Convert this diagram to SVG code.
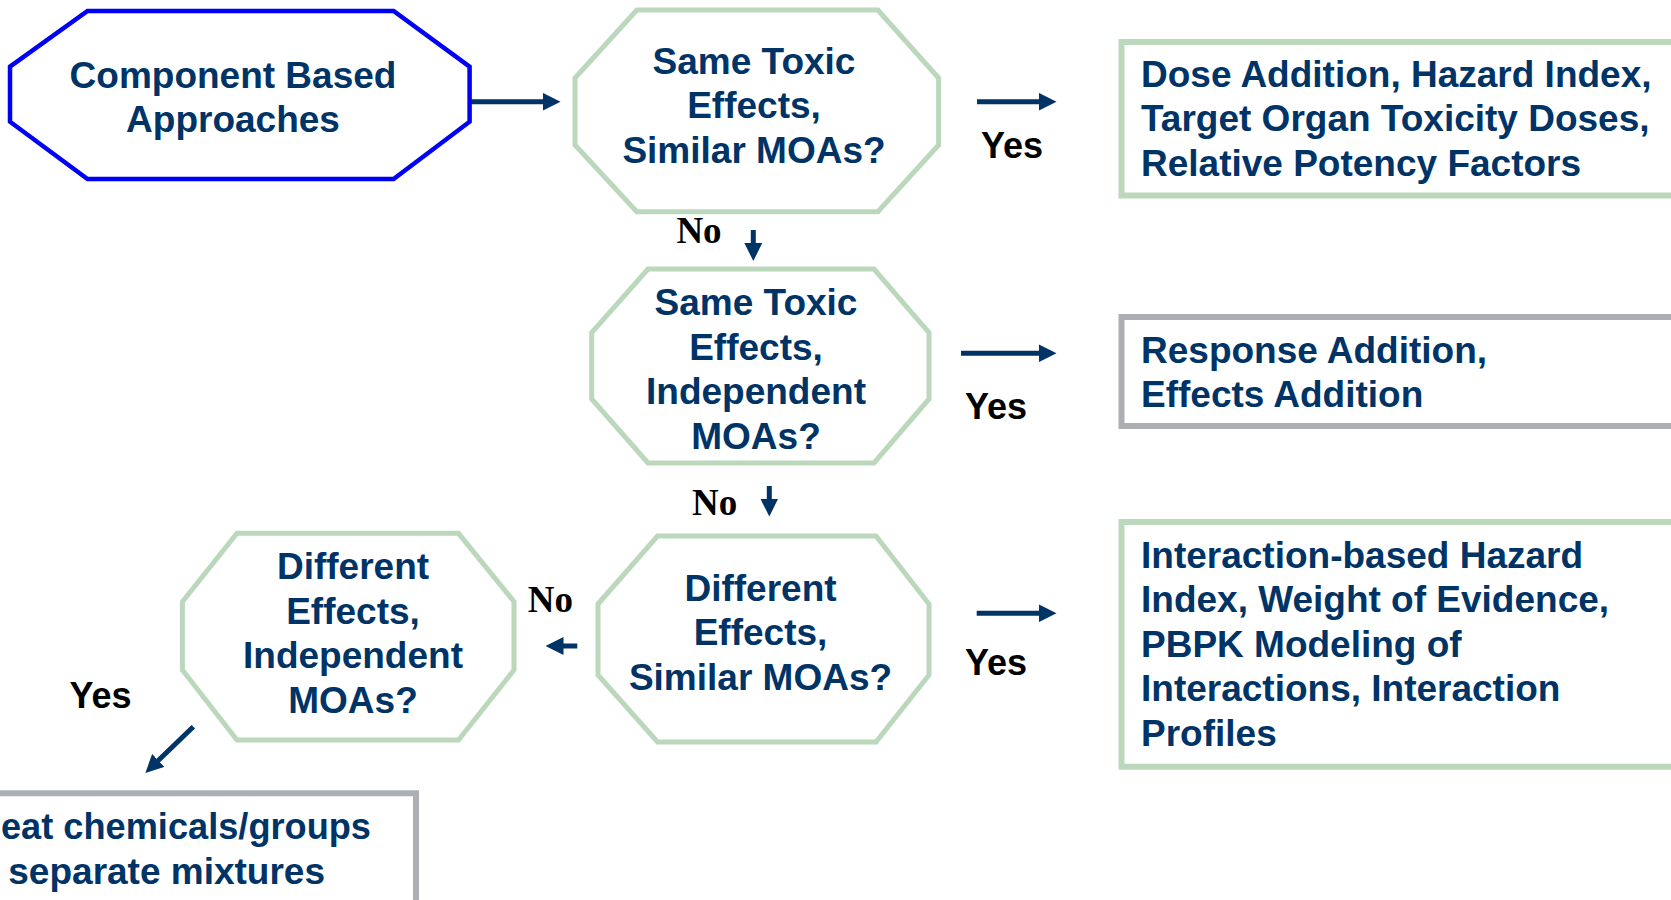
<svg xmlns="http://www.w3.org/2000/svg" width="1671" height="900" viewBox="0 0 1671 900">
<style>
.oct{fill:#ffffff;stroke:#bbd7bc;stroke-width:5;stroke-linejoin:miter}
.start{fill:#ffffff;stroke:#0000f5;stroke-width:4.5}
.boxg{fill:#ffffff;stroke:#bbd7bc;stroke-width:6}
.boxgr{fill:#ffffff;stroke:#abaeb3;stroke-width:6}
.t{font-family:"Liberation Sans",Arial,sans-serif;font-weight:bold;font-size:37px;fill:#003366}
.c{text-anchor:middle}
.yes{font-family:"Liberation Sans",Arial,sans-serif;font-weight:bold;font-size:36px;fill:#000000;text-anchor:middle}
.no{font-family:"Liberation Serif","Times New Roman",serif;font-weight:bold;font-size:37px;fill:#000000;text-anchor:middle}
.arr{stroke:#003366;stroke-width:5;fill:none;marker-end:url(#ah)}
</style>
<defs>
<marker id="ah" markerUnits="userSpaceOnUse" markerWidth="18" markerHeight="18" refX="0.5" refY="9" orient="auto">
<path d="M0,0 L18,9 L0,18 z" fill="#003366"/>
</marker>
</defs>
<rect x="0" y="0" width="1671" height="900" fill="#ffffff"/>

<g id="connectors">
<line class="arr" x1="466" y1="101.7" x2="543" y2="101.7"/>
<line class="arr" x1="977" y1="101.7" x2="1039" y2="101.7"/>
<line class="arr" x1="753.3" y1="230" x2="753.3" y2="243.5"/>
<line class="arr" x1="961" y1="353.3" x2="1039" y2="353.3"/>
<line class="arr" x1="769.3" y1="486" x2="769.3" y2="499"/>
<line class="arr" x1="577.3" y1="646" x2="563" y2="646"/>
<line class="arr" x1="976.7" y1="613.3" x2="1039" y2="613.3"/>
<line class="arr" x1="193.3" y1="726.7" x2="158" y2="760.8"/>
<text class="yes" x="1012" y="157.5">Yes</text>
<text class="yes" x="996" y="419">Yes</text>
<text class="yes" x="996" y="675">Yes</text>
<text class="yes" x="100.5" y="708">Yes</text>
<text class="no" x="699" y="243.3">No</text>
<text class="no" x="714.7" y="515">No</text>
<text class="no" x="550.4" y="611.7">No</text>
</g>

<g id="node-component">
<polygon class="start" points="10,66.7 87.5,11 393.6,11 469.6,66.7 469.6,121.7 393.6,179 87.5,179 10,121.7"/>
<text class="t c" x="233" y="88">Component Based</text>
<text class="t c" x="233" y="132">Approaches</text>
</g>

<g id="node-same-similar">
<polygon class="oct" points="575,78 636.8,10 877.9,10 938.6,78 938.6,145 877.9,211.7 636.8,211.7 575,145"/>
<text class="t c" x="754" y="73.5">Same Toxic</text>
<text class="t c" x="754" y="118">Effects,</text>
<text class="t c" x="754" y="162.5">Similar MOAs?</text>
</g>

<g id="node-same-independent">
<polygon class="oct" points="591.7,332.7 648,269 874,269 929,332.7 929,399 874,463 648,463 591.7,399"/>
<text class="t c" x="756" y="315">Same Toxic</text>
<text class="t c" x="756" y="359.5">Effects,</text>
<text class="t c" x="756" y="404">Independent</text>
<text class="t c" x="756" y="448.5">MOAs?</text>
</g>

<g id="node-different-similar">
<polygon class="oct" points="598,604 657.5,536 876,536 929,604 929,675 876,742 657.5,742 598,675"/>
<text class="t c" x="760.5" y="600.5">Different</text>
<text class="t c" x="760.5" y="645">Effects,</text>
<text class="t c" x="760.5" y="690">Similar MOAs?</text>
</g>

<g id="node-different-independent">
<polygon class="oct" points="182.4,601.7 237,533.3 458.5,533.3 514,601.7 514,670 458.5,740 237,740 182.4,670"/>
<text class="t c" x="353" y="579">Different</text>
<text class="t c" x="353" y="623.5">Effects,</text>
<text class="t c" x="353" y="668">Independent</text>
<text class="t c" x="353" y="713">MOAs?</text>
</g>

<g id="box-dose-addition">
<rect class="boxg" x="1121.5" y="42" width="600" height="153.5"/>
<text class="t" x="1141" y="86.5">Dose Addition, Hazard Index,</text>
<text class="t" x="1141" y="131">Target Organ Toxicity Doses,</text>
<text class="t" x="1141" y="175.5">Relative Potency Factors</text>
</g>

<g id="box-response-addition">
<rect class="boxgr" x="1121.5" y="317" width="600" height="109"/>
<text class="t" x="1141" y="362.5">Response Addition,</text>
<text class="t" x="1141" y="407">Effects Addition</text>
</g>

<g id="box-interaction">
<rect class="boxg" x="1121.5" y="522" width="600" height="244.7"/>
<text class="t" x="1141" y="567.5">Interaction-based Hazard</text>
<text class="t" x="1141" y="612">Index, Weight of Evidence,</text>
<text class="t" x="1141" y="656.5">PBPK Modeling of</text>
<text class="t" x="1141" y="701">Interactions, Interaction</text>
<text class="t" x="1141" y="745.5">Profiles</text>
</g>

<g id="box-separate">
<rect class="boxgr" x="-10" y="793.3" width="426" height="130"/>
<text class="t" x="1" y="839" textLength="370" lengthAdjust="spacingAndGlyphs">eat chemicals/groups</text>
<text class="t" x="8.3" y="883.5">separate mixtures</text>
</g>
</svg>
